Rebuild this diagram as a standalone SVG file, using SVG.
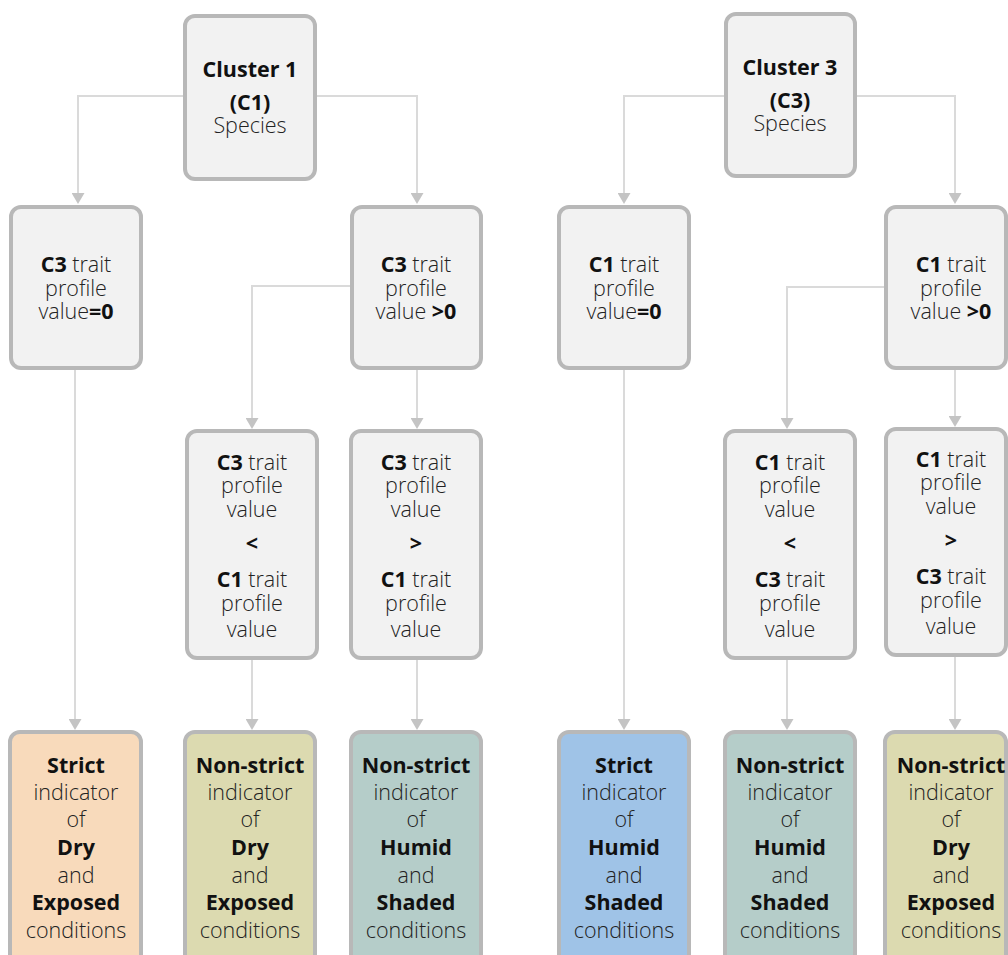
<svg xmlns="http://www.w3.org/2000/svg" width="1008" height="955" viewBox="0 0 1008 955">
  <style>
    .box { fill: #f2f2f2; stroke: #b8b8b8; stroke-width: 4; }
    .dry-strict { fill: #f8dabb; }
    .dry { fill: #dcdab0; }
    .humid { fill: #b5cdc9; }
    .humid-strict { fill: #9fc3e7; }
    .link { fill: none; stroke: #dadada; stroke-width: 2; marker-end: url(#arrow); }
    text { font-family: "Open Sans", "Liberation Sans", sans-serif; font-size: 21.5px; font-weight: 300; fill: #222; text-anchor: middle; }
    .b { font-weight: 700; fill: #111; }
  </style>
  <defs>
    <marker id="arrow" viewBox="0 0 11 13" refX="0" refY="6.5" markerWidth="11" markerHeight="13" markerUnits="userSpaceOnUse" orient="auto">
      <path d="M0,0 L11,6.5 L0,13 z" fill="#c4c4c4"/>
    </marker>
  </defs>
  <rect width="1008" height="955" fill="#ffffff"/>

  <!-- connectors -->
  <g id="connectors">
    <path class="link" d="M183,96 H78 V193"/>
    <path class="link" d="M317,96 H417 V193"/>
    <path class="link" d="M724,96 H624 V193"/>
    <path class="link" d="M857,96 H955 V193"/>
    <path class="link" d="M75,370 V719"/>
    <path class="link" d="M350,286 H252 V418"/>
    <path class="link" d="M417,370 V418"/>
    <path class="link" d="M624,370 V719"/>
    <path class="link" d="M884,287 H787 V418"/>
    <path class="link" d="M955,370 V416"/>
    <path class="link" d="M252,660 V719"/>
    <path class="link" d="M417,660 V719"/>
    <path class="link" d="M787,660 V719"/>
    <path class="link" d="M955,657 V719"/>
  </g>

  <!-- cluster roots -->
  <g id="cluster1">
    <rect class="box" x="185" y="16" width="130" height="163" rx="10"/>
    <text><tspan x="250" y="77" class="b">Cluster 1</tspan><tspan x="250" y="110" class="b">(C1)</tspan><tspan x="250" y="133">Species</tspan></text>
  </g>
  <g id="cluster3">
    <rect class="box" x="726" y="14" width="129" height="162" rx="10"/>
    <text><tspan x="790" y="75" class="b">Cluster 3</tspan><tspan x="790" y="108" class="b">(C3)</tspan><tspan x="790" y="131">Species</tspan></text>
  </g>

  <!-- second level -->
  <g id="c1-c3zero">
    <rect class="box" x="11" y="207" width="130" height="161" rx="10"/>
    <text><tspan x="76" y="272"><tspan class="b">C3</tspan> trait</tspan><tspan x="76" y="296">profile</tspan><tspan x="76" y="319">value<tspan class="b">=0</tspan></tspan></text>
  </g>
  <g id="c1-c3pos">
    <rect class="box" x="352" y="207" width="129" height="161" rx="10"/>
    <text><tspan x="416" y="272"><tspan class="b">C3</tspan> trait</tspan><tspan x="416" y="296">profile</tspan><tspan x="416" y="319">value <tspan class="b">&gt;0</tspan></tspan></text>
  </g>
  <g id="c3-c1zero">
    <rect class="box" x="559" y="207" width="130" height="161" rx="10"/>
    <text><tspan x="624" y="272"><tspan class="b">C1</tspan> trait</tspan><tspan x="624" y="296">profile</tspan><tspan x="624" y="319">value<tspan class="b">=0</tspan></tspan></text>
  </g>
  <g id="c3-c1pos">
    <rect class="box" x="886" y="207" width="120" height="161" rx="10"/>
    <text><tspan x="951" y="272"><tspan class="b">C1</tspan> trait</tspan><tspan x="951" y="296">profile</tspan><tspan x="951" y="319">value <tspan class="b">&gt;0</tspan></tspan></text>
  </g>

  <!-- third level comparisons -->
  <g id="c1-less">
    <rect class="box" x="187" y="431" width="130" height="227" rx="10"/>
    <text><tspan x="252" y="470"><tspan class="b">C3</tspan> trait</tspan><tspan x="252" y="493">profile</tspan><tspan x="252" y="517">value</tspan><tspan x="252" y="551" class="b">&lt;</tspan><tspan x="252" y="587"><tspan class="b">C1</tspan> trait</tspan><tspan x="252" y="611">profile</tspan><tspan x="252" y="637">value</tspan></text>
  </g>
  <g id="c1-greater">
    <rect class="box" x="351" y="431" width="130" height="227" rx="10"/>
    <text><tspan x="416" y="470"><tspan class="b">C3</tspan> trait</tspan><tspan x="416" y="493">profile</tspan><tspan x="416" y="517">value</tspan><tspan x="416" y="551" class="b">&gt;</tspan><tspan x="416" y="587"><tspan class="b">C1</tspan> trait</tspan><tspan x="416" y="611">profile</tspan><tspan x="416" y="637">value</tspan></text>
  </g>
  <g id="c3-less">
    <rect class="box" x="725" y="431" width="130" height="227" rx="10"/>
    <text><tspan x="790" y="470"><tspan class="b">C1</tspan> trait</tspan><tspan x="790" y="493">profile</tspan><tspan x="790" y="517">value</tspan><tspan x="790" y="551" class="b">&lt;</tspan><tspan x="790" y="587"><tspan class="b">C3</tspan> trait</tspan><tspan x="790" y="611">profile</tspan><tspan x="790" y="637">value</tspan></text>
  </g>
  <g id="c3-greater">
    <rect class="box" x="886" y="429" width="120" height="226" rx="10"/>
    <text><tspan x="951" y="467"><tspan class="b">C1</tspan> trait</tspan><tspan x="951" y="490">profile</tspan><tspan x="951" y="514">value</tspan><tspan x="951" y="548" class="b">&gt;</tspan><tspan x="951" y="584"><tspan class="b">C3</tspan> trait</tspan><tspan x="951" y="608">profile</tspan><tspan x="951" y="634">value</tspan></text>
  </g>

  <!-- indicator outcomes -->
  <g id="out-strict-dry">
    <rect class="box dry-strict" x="10" y="732" width="131" height="240" rx="10"/>
    <text><tspan x="76" y="773" class="b">Strict</tspan><tspan x="76" y="800">indicator</tspan><tspan x="76" y="827">of</tspan><tspan x="76" y="855" class="b">Dry</tspan><tspan x="76" y="883">and</tspan><tspan x="76" y="910" class="b">Exposed</tspan><tspan x="76" y="938">conditions</tspan></text>
  </g>
  <g id="out-nonstrict-dry-1">
    <rect class="box dry" x="185" y="732" width="130" height="240" rx="10"/>
    <text><tspan x="250" y="773" class="b">Non-strict</tspan><tspan x="250" y="800">indicator</tspan><tspan x="250" y="827">of</tspan><tspan x="250" y="855" class="b">Dry</tspan><tspan x="250" y="883">and</tspan><tspan x="250" y="910" class="b">Exposed</tspan><tspan x="250" y="938">conditions</tspan></text>
  </g>
  <g id="out-nonstrict-humid-1">
    <rect class="box humid" x="351" y="732" width="130" height="240" rx="10"/>
    <text><tspan x="416" y="773" class="b">Non-strict</tspan><tspan x="416" y="800">indicator</tspan><tspan x="416" y="827">of</tspan><tspan x="416" y="855" class="b">Humid</tspan><tspan x="416" y="883">and</tspan><tspan x="416" y="910" class="b">Shaded</tspan><tspan x="416" y="938">conditions</tspan></text>
  </g>
  <g id="out-strict-humid">
    <rect class="box humid-strict" x="559" y="732" width="130" height="240" rx="10"/>
    <text><tspan x="624" y="773" class="b">Strict</tspan><tspan x="624" y="800">indicator</tspan><tspan x="624" y="827">of</tspan><tspan x="624" y="855" class="b">Humid</tspan><tspan x="624" y="883">and</tspan><tspan x="624" y="910" class="b">Shaded</tspan><tspan x="624" y="938">conditions</tspan></text>
  </g>
  <g id="out-nonstrict-humid-3">
    <rect class="box humid" x="725" y="732" width="130" height="240" rx="10"/>
    <text><tspan x="790" y="773" class="b">Non-strict</tspan><tspan x="790" y="800">indicator</tspan><tspan x="790" y="827">of</tspan><tspan x="790" y="855" class="b">Humid</tspan><tspan x="790" y="883">and</tspan><tspan x="790" y="910" class="b">Shaded</tspan><tspan x="790" y="938">conditions</tspan></text>
  </g>
  <g id="out-nonstrict-dry-3">
    <rect class="box dry" x="885" y="732" width="121" height="240" rx="10"/>
    <text><tspan x="951" y="773" class="b">Non-strict</tspan><tspan x="951" y="800">indicator</tspan><tspan x="951" y="827">of</tspan><tspan x="951" y="855" class="b">Dry</tspan><tspan x="951" y="883">and</tspan><tspan x="951" y="910" class="b">Exposed</tspan><tspan x="951" y="938">conditions</tspan></text>
  </g>
</svg>
